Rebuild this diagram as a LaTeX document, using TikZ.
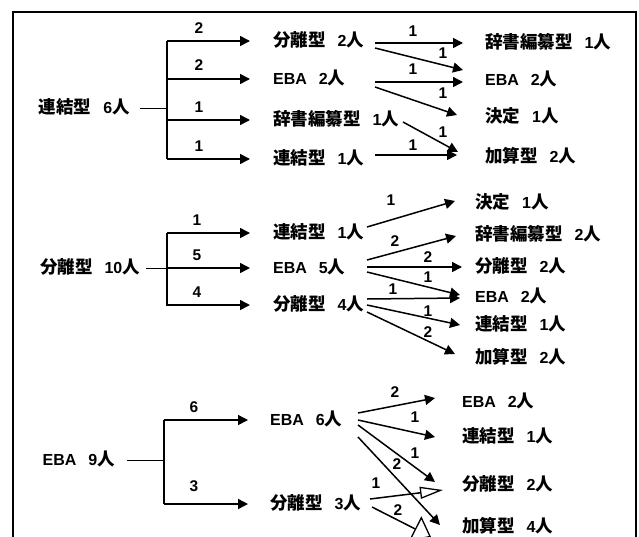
\documentclass[tikz,border=0pt]{standalone}
\usepackage{fontspec}
\setmainfont{Liberation Sans}
\newfontfamily\cj{Noto Sans CJK JP}
\usetikzlibrary{arrows.meta}
\newcommand\cjt[1]{{\cj\fontsize{17.5}{20}\selectfont #1}}
\newcommand\lb[2]{#1\hspace{12pt}#2\cjt{人}}
\newcommand\arw[5][]{\draw[arr,#1] ([shift={#3}]#2.west) -- ([shift={#5}]#4.west);}
\begin{document}
\begin{tikzpicture}[x=1pt,y=-1pt,
  txt/.style={inner sep=0pt,font=\fontsize{16}{19}\selectfont\bfseries,text height=11.5pt,text depth=0pt},
  num/.style={inner sep=0pt,font=\fontsize{15.5}{18}\selectfont\bfseries},
  arr/.style={line width=1.5pt,-{Triangle[length=10pt,width=10pt]}},
  oarr/.style={line width=1.5pt,-{Triangle[open,length=23pt,width=12pt,line width=1.3pt]}},
  stub/.style={line width=1pt},
  fan/.style={line width=1.5pt}]
\useasboundingbox (0,0) rectangle (639,536);
\clip (0,0) rectangle (639,536);
\draw[line width=1.6pt] (13,537) -- (13,12) -- (636,12) -- (636,537);

% ---------- group 1
\node[txt,anchor=east] (r1) at (130,108) {\lb{\cjt{連結型}}{6}};
\coordinate (v1t) at (167,41);
\coordinate (v1b) at (167,159);
\draw[stub] ([xshift=10pt]r1.east) -- (r1.east -| v1t);
\draw[fan] (v1t) -- (v1b);
\node[txt,anchor=west] (m11) at (273,41) {\lb{\cjt{分離型}}{2}};
\node[txt,anchor=west] (m12) at (273,79) {\lb{EBA}{2}};
\node[txt,anchor=west] (m13) at (273,120) {\lb{\cjt{辞書編纂型}}{1}};
\node[txt,anchor=west] (m14) at (273,159) {\lb{\cjt{連結型}}{1}};
\foreach \m in {m11,m12,m13,m14}{\draw[arr] (\m.west -| v1t) -- ([xshift=-23pt]\m.west);}
\node[num] at (199,28) {2};
\node[num] at (199,65) {2};
\node[num] at (199,107) {1};
\node[num] at (199,146) {1};
\node[txt,anchor=west] (e11) at (485,43) {\lb{\cjt{辞書編纂型}}{1}};
\node[txt,anchor=west] (e12) at (485,80) {\lb{EBA}{2}};
\node[txt,anchor=west] (e13) at (485,117) {\lb{\cjt{決定}}{1}};
\node[txt,anchor=west] (e14) at (485,157) {\lb{\cjt{加算型}}{2}};
\arw{m11}{(102,2)}{e11}{(-22,0)}
\arw{m11}{(102,7)}{e12}{(-22,-10)}
\arw{m12}{(102,3)}{e12}{(-22,2)}
\arw{m12}{(102,8)}{e13}{(-28,-2)}
\arw{m13}{(130,2)}{e14}{(-27,-5)}
\arw{m14}{(102,-4)}{e14}{(-28,-2)}
\node[num] at (413,31) {1};
\node[num] at (443,53) {1};
\node[num] at (413,69) {1};
\node[num] at (443,93) {1};
\node[num] at (443,132) {1};
\node[num] at (413,145) {1};

% ---------- group 2
\node[txt,anchor=east] (r2) at (140,268) {\lb{\cjt{分離型}}{10}};
\coordinate (v2t) at (167,233);
\coordinate (v2b) at (167,306);
\draw[stub] ([xshift=6pt]r2.east) -- (r2.east -| v2t);
\draw[fan] (v2t) -- (v2b);
\node[txt,anchor=west] (n21) at (273,233) {\lb{\cjt{連結型}}{1}};
\node[txt,anchor=west] (n22) at (273,268) {\lb{EBA}{5}};
\node[txt,anchor=west] (n23) at (273,305) {\lb{\cjt{分離型}}{4}};
\foreach \m in {n21,n22,n23}{\draw[arr] (\m.west -| v2t) -- ([xshift=-23pt]\m.west);}
\node[num] at (197,220) {1};
\node[num] at (197,255) {5};
\node[num] at (197,292) {4};
\node[txt,anchor=west] (d1) at (475,203) {\lb{\cjt{決定}}{1}};
\node[txt,anchor=west] (d2) at (475,235) {\lb{\cjt{辞書編纂型}}{2}};
\node[txt,anchor=west] (d3) at (475,267) {\lb{\cjt{分離型}}{2}};
\node[txt,anchor=west] (d4) at (475,297) {\lb{EBA}{2}};
\node[txt,anchor=west] (d5) at (475,325) {\lb{\cjt{連結型}}{1}};
\node[txt,anchor=west] (d6) at (475,358) {\lb{\cjt{加算型}}{2}};
\arw{n21}{(94,-6)}{d1}{(-20,-2)}
\arw{n22}{(94,-8)}{d2}{(-19,1)}
\arw{n22}{(94,-1)}{d3}{(-13,0)}
\arw{n22}{(94,4)}{d4}{(-15,-2)}
\arw{n23}{(94,-6)}{d4}{(-15,1)}
\arw{n23}{(94,0)}{d5}{(-15,0)}
\arw{n23}{(94,7)}{d6}{(-20,-4)}
\node[num] at (391,200) {1};
\node[num] at (395,241) {2};
\node[num] at (428,257) {2};
\node[num] at (428,277) {1};
\node[num] at (393,289) {1};
\node[num] at (428,311) {1};
\node[num] at (428,332) {2};

% ---------- group 3
\node[txt,anchor=east] (r3) at (115,460) {\lb{EBA}{9}};
\coordinate (v3t) at (164,420);
\coordinate (v3b) at (164,504);
\draw[stub] ([xshift=12pt]r3.east) -- (r3.east -| v3t);
\draw[fan] (v3t) -- (v3b);
\node[txt,anchor=west] (p1) at (270,420) {\lb{EBA}{6}};
\node[txt,anchor=west] (p2) at (270,504) {\lb{\cjt{分離型}}{3}};
\foreach \m in {p1,p2}{\draw[arr] (\m.west -| v3t) -- ([xshift=-22pt]\m.west);}
\node[num] at (194,407) {6};
\node[num] at (194,486) {3};
\node[txt,anchor=west] (q1) at (462,402) {\lb{EBA}{2}};
\node[txt,anchor=west] (q2) at (462,437) {\lb{\cjt{連結型}}{1}};
\node[txt,anchor=west] (q3) at (462,485) {\lb{\cjt{分離型}}{2}};
\node[txt,anchor=west] (q4) at (462,527) {\lb{\cjt{加算型}}{4}};
\arw{p1}{(88,-7)}{q1}{(-27,-4)}
\arw{p1}{(88,0)}{q2}{(-27,0)}
\arw{p1}{(88,5)}{q3}{(-27,-3)}
\arw{p1}{(88,17)}{q4}{(-22,-2)}
\arw[oarr]{p2}{(100,-5)}{q3}{(-19,5)}
\arw[oarr,-{Triangle[open,length=18pt,width=28pt,line width=1.3pt]}]{p2}{(102,3)}{q4}{(-31,10)}
\node[num] at (395,392) {2};
\node[num] at (415,417) {1};
\node[num] at (415,453) {1};
\node[num] at (397,464) {2};
\node[num] at (376,483) {1};
\node[num] at (398,510) {2};
\end{tikzpicture}
\end{document}
